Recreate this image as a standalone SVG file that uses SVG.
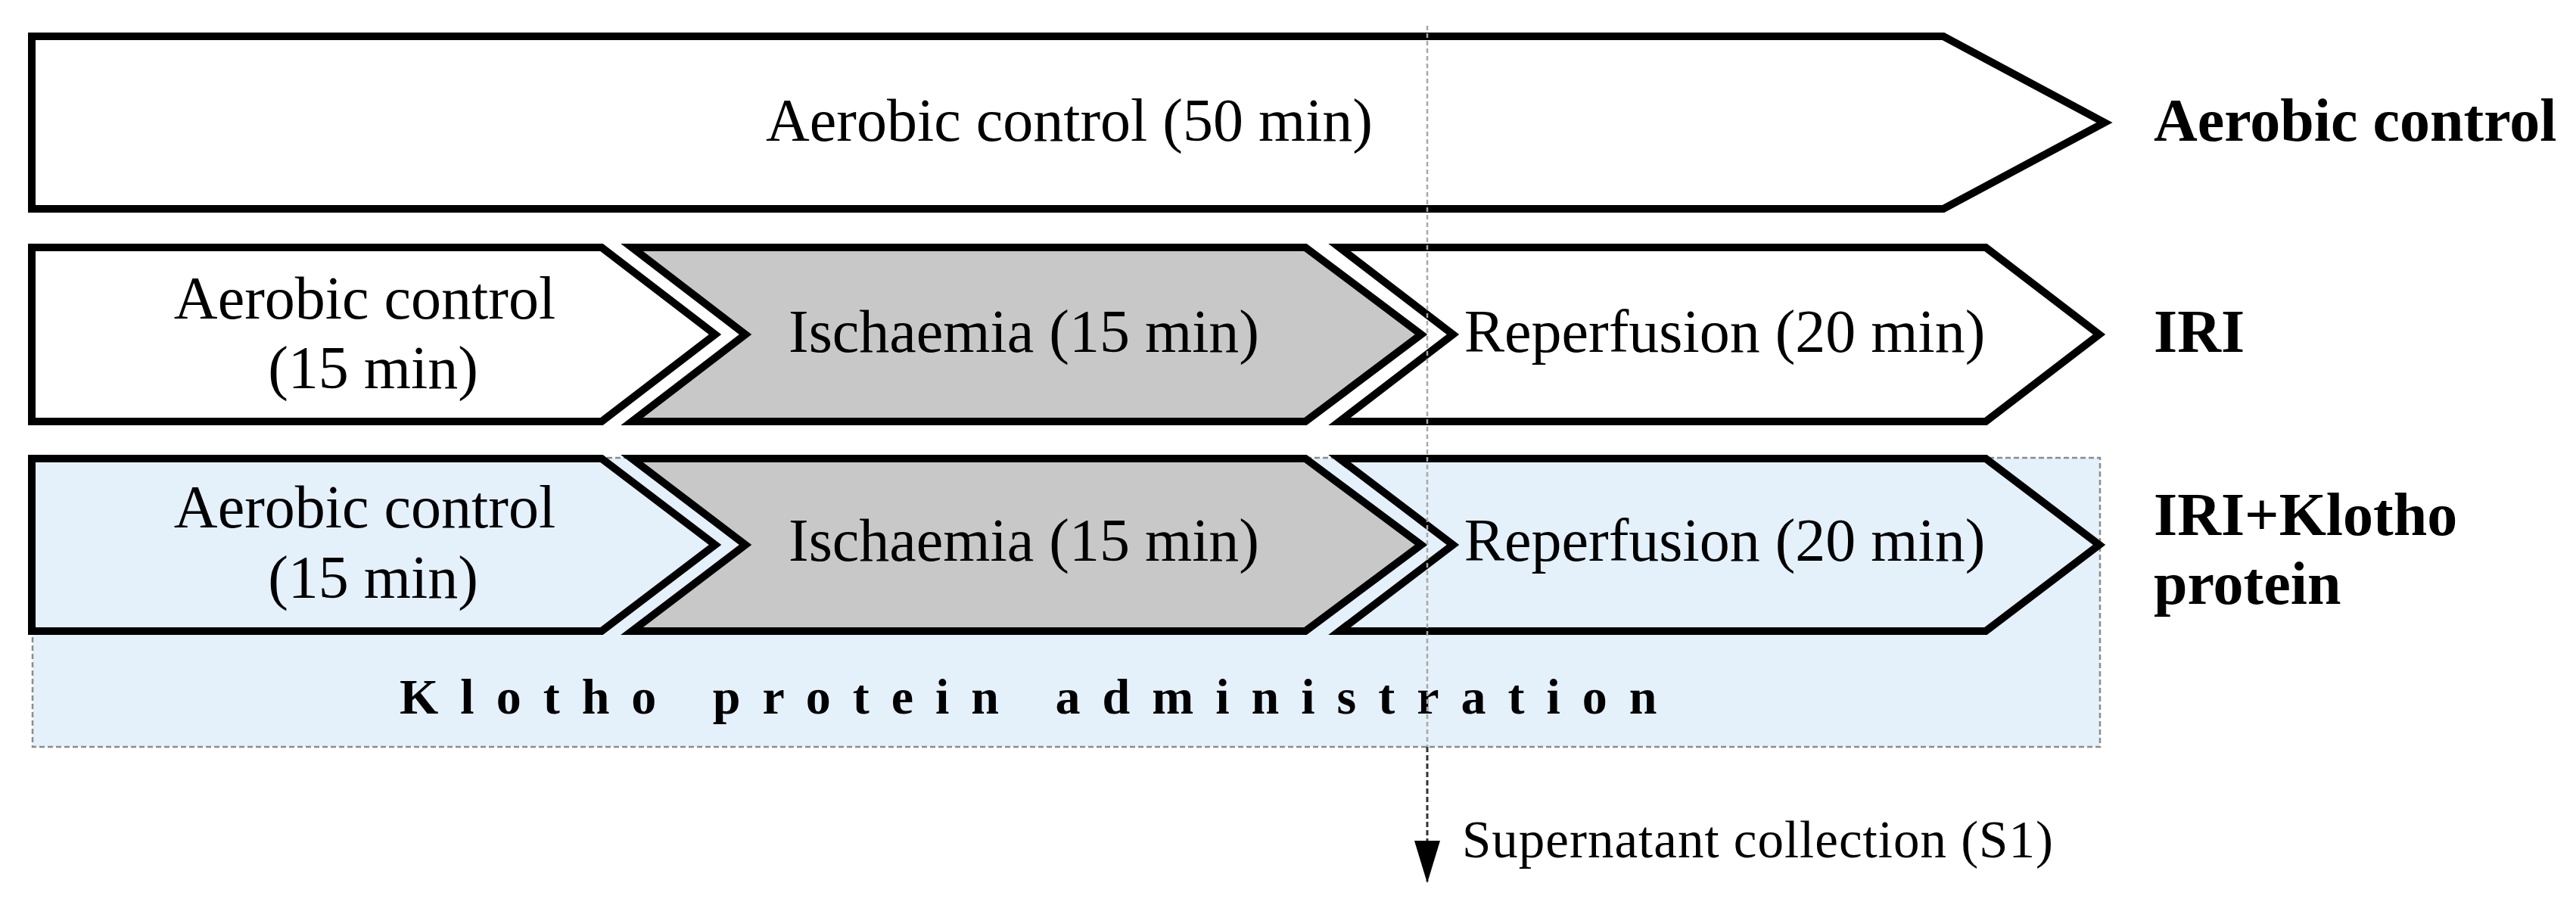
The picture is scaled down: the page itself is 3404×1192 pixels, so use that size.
<svg xmlns="http://www.w3.org/2000/svg" width="3404" height="1192" viewBox="0 0 3404 1192">
<style>
.stage{stroke:#000;stroke-width:10;stroke-linejoin:miter;stroke-miterlimit:10}
.white{fill:#fff}
.grey{fill:#c8c8c8}
.blue{fill:#e4f0fa}
.t{font-family:"Liberation Serif","Times New Roman",serif;font-size:80px;fill:#000}
.c{text-anchor:middle}
.b{font-weight:bold}
.k{font-family:"Liberation Serif","Times New Roman",serif;font-size:66px;font-weight:bold;letter-spacing:29px;fill:#000}
.s{font-family:"Liberation Serif","Times New Roman",serif;font-size:69px;fill:#000;letter-spacing:1px}
</style>
<defs>
<marker id="ah" markerUnits="userSpaceOnUse" markerWidth="56" markerHeight="34" refX="54" refY="17" orient="auto" viewBox="0 0 56 34">
<path d="M0,0 L56,17 L0,34 Z" fill="#000"/>
</marker>
</defs>
<rect width="3404" height="1192" fill="#fff"/>
<g id="klotho-admin">
<rect x="43" y="605" width="2732" height="382" fill="#e4f0fa" stroke="#8c8c8c" stroke-width="2.5" stroke-dasharray="7 4"/>
<text class="k" x="528" y="943">Klotho protein administration</text>
</g>
<g id="row-aerobic">
<path class="stage white" d="M42,48 H2568 L2781,162 L2568,276 H42 Z"/>
<text class="t c" x="1413" y="186">Aerobic control (50 min)</text>
</g>
<g id="row-iri">
<g id="iri-aerobic">
<path class="stage white" d="M42,327 H795 L945,442 L795,557 H42 Z"/>
<text class="t c" x="482" y="421">Aerobic control</text>
<text class="t c" x="493" y="513">(15 min)</text>
</g>
<g id="iri-ischaemia">
<path class="stage grey" d="M835,327 H1725 L1878,442 L1725,557 H835 L985,442 Z"/>
<text class="t c" x="1353" y="465">Ischaemia (15 min)</text>
</g>
<g id="iri-reperfusion">
<path class="stage white" d="M1770,327 H2624 L2774,442 L2624,557 H1770 L1920,442 Z"/>
<text class="t c" x="2279" y="465">Reperfusion (20 min)</text>
</g>
</g>
<g id="row-klotho">
<g id="k-aerobic">
<path class="stage blue" d="M42,606 H795 L945,720 L795,834 H42 Z"/>
<text class="t c" x="482" y="697">Aerobic control</text>
<text class="t c" x="493" y="790">(15 min)</text>
</g>
<g id="k-ischaemia">
<path class="stage grey" d="M835,606 H1725 L1878,720 L1725,834 H835 L985,720 Z"/>
<text class="t c" x="1353" y="741">Ischaemia (15 min)</text>
</g>
<g id="k-reperfusion">
<path class="stage blue" d="M1770,606 H2624 L2774,720 L2624,834 H1770 L1920,720 Z"/>
<text class="t c" x="2279" y="741">Reperfusion (20 min)</text>
</g>
</g>
<g id="labels">
<text class="t b" x="2846" y="186">Aerobic control</text>
<text class="t b" x="2846" y="465">IRI</text>
<text class="t b" x="2846" y="707">IRI+Klotho</text>
<text class="t b" x="2846" y="798">protein</text>
</g>
<g id="connectors">
<line x1="1886" y1="34" x2="1886" y2="987" stroke="#a8a8a8" stroke-width="2.5" stroke-dasharray="6 4"/>
<line x1="1886" y1="987" x2="1886" y2="1165" stroke="#333" stroke-width="3" stroke-dasharray="7 4" marker-end="url(#ah)"/>
</g>
<g id="supernatant">
<text class="s" x="1932" y="1133">Supernatant collection (S1)</text>
</g>
</svg>
